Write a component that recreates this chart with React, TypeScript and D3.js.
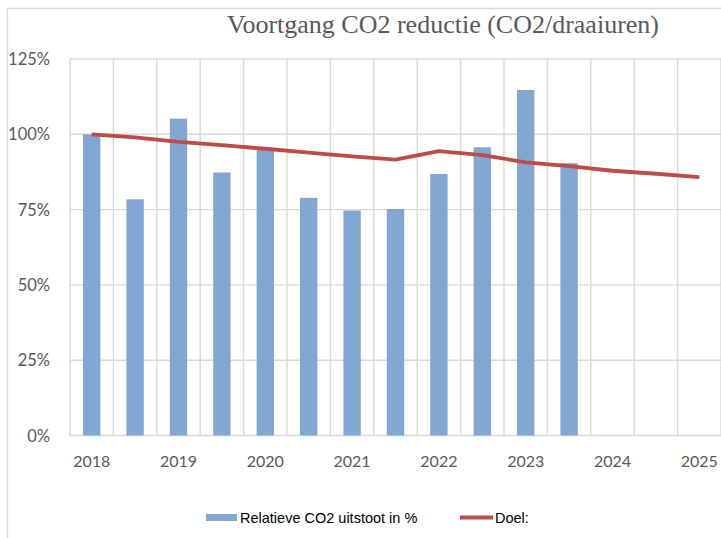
import { useEffect, useRef } from 'react'
import * as d3 from 'd3'

// half-year periods, 2018 .. 2025
const PERIODS = [2018, 2018.5, 2019, 2019.5, 2020, 2020.5, 2021, 2021.5, 2022, 2022.5, 2023, 2023.5, 2024, 2024.5, 2025]
const EMISSION = [100, 78.4, 105.2, 87.3, 95.3, 78.9, 74.7, 75.2, 86.8, 95.7, 114.7, 90.4]
const GOAL = [100, 99.0, 97.5, 96.4, 95.2, 93.9, 92.7, 91.6, 94.4, 93.1, 90.7, 89.4, 87.9, 86.9, 85.8]
const Y_TICKS = [0, 25, 50, 75, 100, 125]

const BAR_COLOR = '#82a6d2'
const LINE_COLOR = '#be4b48'
const GRID_COLOR = '#d9d9d9'
const TEXT_COLOR = '#595959'

export default function App() {
  const ref = useRef<SVGSVGElement>(null)

  useEffect(() => {
    if (!ref.current) return
    const width = 721
    const height = 538
    const margin = { top: 59, right: 0, bottom: 102.5, left: 70 }
    const innerW = width - margin.left - margin.right
    const innerH = height - margin.top - margin.bottom

    const svg = d3.select(ref.current)
    svg.selectAll('*').remove()
    svg.attr('width', width).attr('height', height)

    // outer chart border
    svg.append('path')
      .attr('d', `M7.5,${height}V8.5H${width}`)
      .attr('fill', 'none')
      .attr('stroke', GRID_COLOR)
      .attr('stroke-width', 1.3)

    svg.append('text')
      .attr('x', 443)
      .attr('y', 33)
      .attr('text-anchor', 'middle')
      .attr('fill', TEXT_COLOR)
      .attr('font-family', '"Liberation Serif", serif')
      .attr('font-size', '26px')
      .text('Voortgang CO2 reductie (CO2/draaiuren)')

    const g = svg.append('g').attr('transform', `translate(${margin.left},${margin.top})`)

    const x = d3.scaleBand<number>().domain(PERIODS).range([0, innerW]).padding(0)
    const y = d3.scaleLinear().domain([0, 125]).range([innerH, 0])

    // horizontal gridlines
    g.append('g')
      .selectAll('line')
      .data(Y_TICKS)
      .enter()
      .append('line')
      .attr('x1', 0)
      .attr('x2', innerW)
      .attr('y1', (d) => y(d))
      .attr('y2', (d) => y(d))
      .attr('stroke', GRID_COLOR)
      .attr('stroke-width', 1.4)

    // vertical gridlines at category boundaries
    const bounds = PERIODS.map((p) => x(p) as number).concat([innerW])
    g.append('g')
      .selectAll('line')
      .data(bounds)
      .enter()
      .append('line')
      .attr('x1', (d) => d)
      .attr('x2', (d) => d)
      .attr('y1', 0)
      .attr('y2', innerH)
      .attr('stroke', GRID_COLOR)
      .attr('stroke-width', 1.4)

    g.append('g')
      .selectAll('text')
      .data(Y_TICKS)
      .enter()
      .append('text')
      .attr('x', -20)
      .attr('y', (d) => y(d) + 6)
      .attr('text-anchor', 'end')
      .attr('fill', TEXT_COLOR)
      .attr('font-family', 'Lato, sans-serif')
      .attr('font-size', '16.5px')
      .text((d) => `${d}%`)

    g.append('g')
      .selectAll('text')
      .data(PERIODS.filter((p) => Number.isInteger(p)))
      .enter()
      .append('text')
      .attr('x', (d) => (x(d) as number) + x.bandwidth() / 2)
      .attr('y', innerH + 31)
      .attr('text-anchor', 'middle')
      .attr('fill', TEXT_COLOR)
      .attr('font-family', 'Lato, sans-serif')
      .attr('font-size', '16px')
      .text((d) => d)

    const barW = x.bandwidth() * 0.4
    g.append('g')
      .selectAll('rect')
      .data(EMISSION)
      .enter()
      .append('rect')
      .attr('x', (_, i) => (x(PERIODS[i]) as number) + (x.bandwidth() - barW) / 2)
      .attr('y', (d) => y(d))
      .attr('width', barW)
      .attr('height', (d) => innerH - y(d))
      .attr('fill', BAR_COLOR)

    const line = d3
      .line<number>()
      .x((_, i) => (x(PERIODS[i]) as number) + x.bandwidth() / 2)
      .y((d) => y(d))

    g.append('path')
      .datum(GOAL)
      .attr('d', line)
      .attr('fill', 'none')
      .attr('stroke', LINE_COLOR)
      .attr('stroke-width', 3.8)
      .attr('stroke-linejoin', 'round')

    // legend
    const leg = svg.append('g').attr('font-family', '"Liberation Sans", Arial, sans-serif').attr('font-size', '14.5px').attr('fill', '#000')
    leg.append('rect').attr('x', 206).attr('y', 514).attr('width', 31).attr('height', 7).attr('fill', BAR_COLOR)
    leg.append('text').attr('x', 240).attr('y', 523).text('Relatieve CO2 uitstoot in %')
    leg.append('line').attr('x1', 460).attr('x2', 493).attr('y1', 517.5).attr('y2', 517.5).attr('stroke', LINE_COLOR).attr('stroke-width', 3.8)
    leg.append('text').attr('x', 495).attr('y', 523).text('Doel:')

    return () => {
      svg.selectAll('*').remove()
    }
  }, [])

  return <svg ref={ref} style={{ position: 'absolute', left: 0, top: 0, background: '#fff' }} />
}
